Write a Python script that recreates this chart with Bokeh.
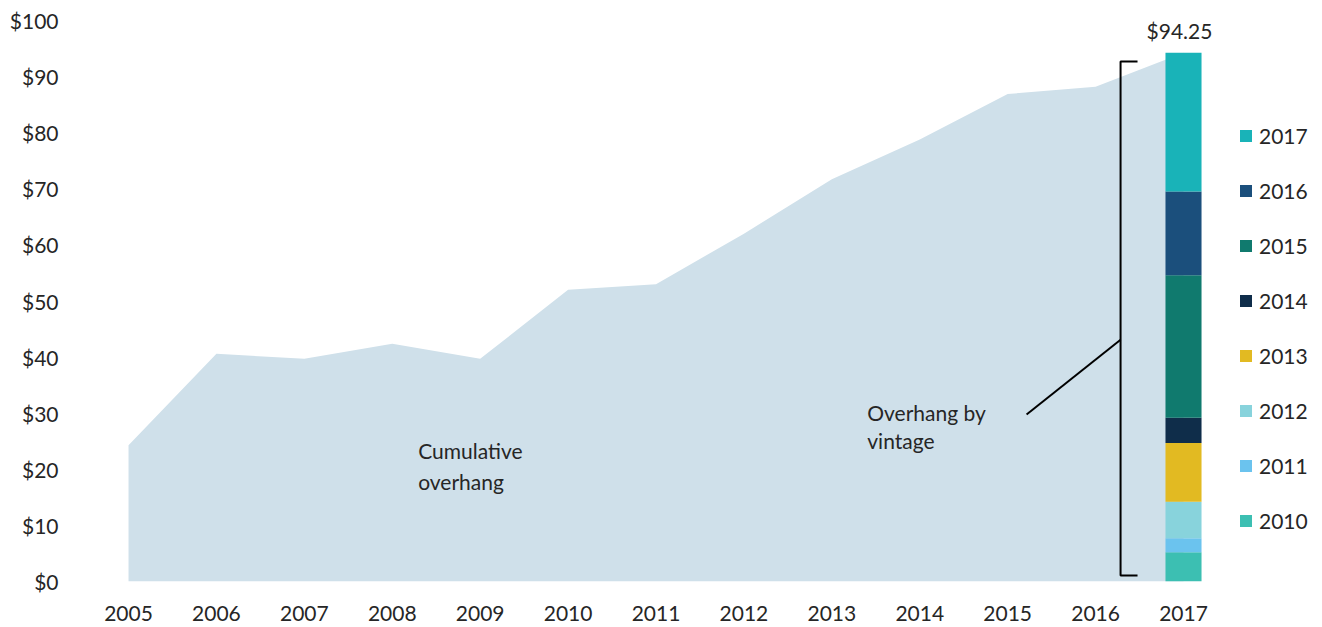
from bokeh.plotting import figure
from bokeh.models import (Range1d, FixedTicker, Legend, LegendItem, Label, ColumnDataSource)
from bokeh.embed import file_html
from bokeh.resources import INLINE

# ---- data ----
years = [2005, 2006, 2007, 2008, 2009, 2010, 2011, 2012, 2013, 2014, 2015, 2016, 2017]
cumulative_overhang = [24.3, 40.6, 39.7, 42.4, 39.7, 52.0, 53.0, 62.0, 71.7, 78.8, 86.9, 88.2, 94.25]

vintages = ["2010", "2011", "2012", "2013", "2014", "2015", "2016", "2017"]
vintage_values = [5.2, 2.5, 6.5, 10.5, 4.5, 25.4, 14.9, 24.75]
vintage_colors = ["#3CBFB2", "#6BC3EE", "#88D3DC", "#E2BA22", "#0F2D4A", "#107A6E", "#1B4F7C", "#19B3B8"]
bar_year = 2017
bar_total_label = "$94.25"

y_ticks = [0, 10, 20, 30, 40, 50, 60, 70, 80, 90, 100]
y_tick_labels = ["$0", "$10", "$20", "$30", "$40", "$50", "$60", "$70", "$80", "$90", "$100"]
x_tick_labels = [str(y) for y in years]

annot_cum = ["Cumulative", "overhang"]
annot_vint = ["Overhang by", "vintage"]

FONT = "Lato"
TXT = "#262626"

W, H = 1314, 626
BL, BT, BB = 78, 8, 45

p = figure(width=W, height=H, output_backend="svg", toolbar_location=None,
           x_range=Range1d(2004.431, 2018.490), y_range=Range1d(0, 102.14),
           min_border_left=BL, min_border_right=0, min_border_top=BT, min_border_bottom=BB)
p.outline_line_color = None
p.xgrid.visible = False
p.ygrid.visible = False
p.background_fill_color = "white"

# area
p.varea(x=years, y1=[0] * len(years), y2=cumulative_overhang, fill_color="#CFE0EA")

# stacked bar
src = ColumnDataSource({"x": [bar_year], **{v: [val] for v, val in zip(vintages, vintage_values)}})
rs = p.vbar_stack(vintages, x="x", width=0.41, color=vintage_colors, source=src, line_width=0)

# total label
p.add_layout(Label(x=bar_year, y=sum(vintage_values), text=bar_total_label, text_align="center",
                   text_baseline="alphabetic", y_offset=22, text_font=FONT, text_font_size="21px",
                   text_color=TXT, x_offset=-4))

# bracket
bx, btx = 2016.284, 2016.477
p.line(x=[btx, bx, bx, btx], y=[92.7, 92.7, 1.07, 1.07], line_color="black", line_width=2)
p.line(x=[2015.215, bx], y=[29.77, 43.1], line_color="black", line_width=2)

# annotations
for t, yv in zip(annot_cum, [23.3, 17.9]):
    p.add_layout(Label(x=2008.295, y=yv, text=t, text_font=FONT, text_font_size="21px",
                       text_color=TXT, text_baseline="alphabetic"))
for t, yv in zip(annot_vint, [30.2, 25.1]):
    p.add_layout(Label(x=2013.403, y=yv, text=t, text_font=FONT, text_font_size="21px",
                       text_color=TXT, text_baseline="alphabetic"))

# axes
for ax in (p.xaxis[0], p.yaxis[0]):
    ax.axis_line_color = None
    ax.major_tick_line_color = None
    ax.minor_tick_line_color = None
    ax.major_tick_out = 0
    ax.major_tick_in = 0
    ax.major_label_text_font = FONT
    ax.major_label_text_font_size = "21px"
    ax.major_label_text_color = TXT

p.xaxis.ticker = FixedTicker(ticks=years)
p.xaxis.major_label_overrides = {y: l for y, l in zip(years, x_tick_labels)}
p.xaxis.major_label_standoff = 24
p.yaxis.ticker = FixedTicker(ticks=y_ticks)
p.yaxis.major_label_overrides = {t: l for t, l in zip(y_ticks, y_tick_labels)}
p.yaxis.major_label_standoff = 20

# legend
items = [LegendItem(label=v, renderers=[r]) for v, r in zip(vintages, rs)][::-1]
legend = Legend(items=items, location=(1160, 573 - 136 - 10 - 7 * 55 + 10 - 30 + 26), padding=0, margin=0,
                border_line_color=None, background_fill_alpha=0,
                glyph_width=15, glyph_height=15, label_standoff=6, spacing=30,
                label_text_font=FONT, label_text_font_size="21px", label_text_color=TXT,
                label_height=25)
p.add_layout(legend, "center")

open("out.html", "w").write(file_html(p, INLINE))
